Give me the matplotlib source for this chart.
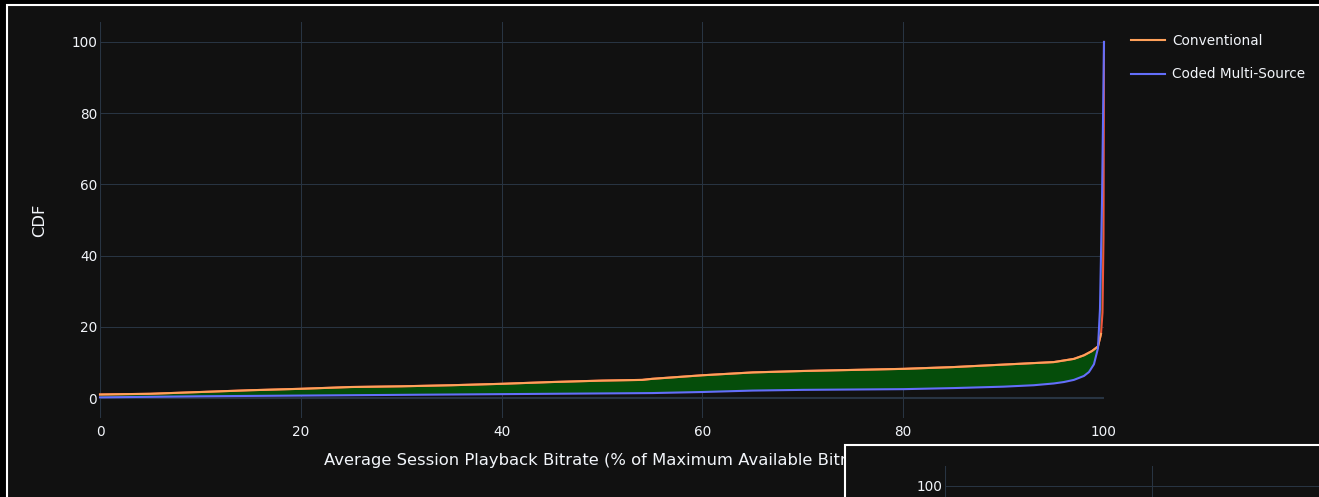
import numpy as np
import matplotlib
matplotlib.use('Agg')
import matplotlib.pyplot as plt
from matplotlib.patches import Rectangle

# CDF of average session playback bitrate (% of max available bitrate)
conventional_x = [0, 5, 10, 15, 20, 25, 30, 35, 40, 45, 50, 54, 55, 60, 65, 70, 75,
                  80, 85, 90, 95, 97, 98, 98.8, 99.4, 99.7, 99.85, 99.95, 100]
conventional_y = [1.0, 1.2, 1.7, 2.2, 2.6, 3.1, 3.3, 3.6, 4.0, 4.5, 4.9, 5.1, 5.4, 6.4, 7.2, 7.6, 7.9,
                  8.2, 8.7, 9.4, 10.1, 11.0, 12.0, 13.2, 14.5, 18, 24, 45, 100]

coded_x = [0, 10, 20, 30, 40, 50, 55, 60, 65, 70, 75, 80, 85, 90, 93, 95, 96, 97, 98,
           98.5, 99, 99.4, 99.6, 99.8, 100]
coded_y = [0.2, 0.5, 0.7, 0.9, 1.1, 1.3, 1.4, 1.7, 2.1, 2.3, 2.4, 2.5, 2.8, 3.2, 3.6, 4.1, 4.5, 5.1, 6.2,
           7.3, 9.5, 14, 25, 55, 100]

labels = ['Conventional', 'Coded Multi-Source']
x_ticks = [0, 20, 40, 60, 80, 100]
y_ticks = [0, 20, 40, 60, 80, 100]

BG = '#111111'
GRID = '#283442'
TXT = '#f2f5fa'
ORANGE = '#FFA15A'
RED = '#EF553B'
BLUE = '#636efa'
FILL = '#054d0a'

plt.rcParams['font.family'] = 'DejaVu Sans'
plt.rcParams['font.size'] = 9.8

W, H = 1319, 497
fig = plt.figure(figsize=(W / 100, H / 100), dpi=100, facecolor='black')

# window frame
fig.add_artist(Rectangle((7 / W, -0.2), 1.5, 1 - 5 / H + 0.2, transform=fig.transFigure,
                         facecolor=BG, edgecolor='white', linewidth=1.5, zorder=-1))


def style_axes(ax):
    ax.set_facecolor(BG)
    for s in ax.spines.values():
        s.set_visible(False)
    ax.set_xlim(0, 100)
    ax.set_ylim(-5.6, 105.6)
    ax.set_xticks(x_ticks)
    ax.set_yticks(y_ticks)
    ax.tick_params(length=0, colors=TXT, labelsize=9.8)
    ax.tick_params(axis='y', pad=2)
    ax.tick_params(axis='x', pad=5)
    ax.grid(True, color=GRID, linewidth=0.75)
    ax.set_axisbelow(True)
    ax.axhline(0, color=GRID, linewidth=1.5, zorder=0.5)
    ax.axvline(0, color=GRID, linewidth=1.5, zorder=0.5)


def draw_cdf(ax):
    poly_x = list(conventional_x) + list(coded_x)[::-1]
    poly_y = list(conventional_y) + list(coded_y)[::-1]
    ax.fill(poly_x, poly_y, color=FILL, linewidth=0, zorder=1)
    ax.plot(conventional_x, conventional_y, color=RED, linewidth=1.5, zorder=2, clip_on=False)
    cx = np.array(conventional_x)
    cy = np.array(conventional_y)
    keep = cy <= 20
    ax.plot(cx[keep], cy[keep], color=ORANGE, linewidth=1.5, zorder=3, label=labels[0], clip_on=False)
    ax.plot(coded_x, coded_y, color=BLUE, linewidth=1.5, zorder=4, label=labels[1], clip_on=False)


ax = fig.add_axes([100 / W, (H - 418) / H, 1004 / W, 396 / H], zorder=0)
style_axes(ax)
draw_cdf(ax)
ax.set_xlabel('Average Session Playback Bitrate (% of Maximum Available Bitrate)', color=TXT, fontsize=11.8)
ax.xaxis.set_label_coords(0.5, -0.089)
ax.set_ylabel('CDF', color=TXT, fontsize=11.8)
ax.yaxis.set_label_coords(-0.053, 0.5)

leg = fig.legend(loc='upper left', bbox_to_anchor=(1119 / W, 1 - 22 / H), frameon=False,
                 handlelength=2.5, handletextpad=0.5, labelspacing=1.4, fontsize=9.8)
for t in leg.get_texts():
    t.set_color(TXT)

# second window overlapping the bottom right corner
fig.add_artist(Rectangle((845 / W, -0.2), 1.0, (H - 445) / H + 0.2, transform=fig.transFigure,
                         facecolor=BG, edgecolor='white', linewidth=1.5, zorder=1))
ax2 = fig.add_axes([945 / W, (H - 466 - 396) / H, 1035 / W, 396 / H], zorder=2)
style_axes(ax2)
ax2.set_yticks(y_ticks[-1:])
ax2.tick_params(axis='x', labelbottom=False)
draw_cdf(ax2)

fig.savefig('out.png', dpi=100, facecolor='black')
